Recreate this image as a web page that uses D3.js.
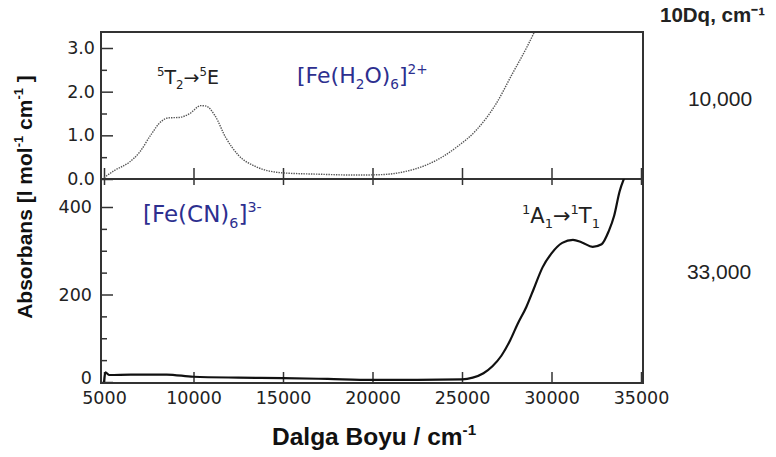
<!DOCTYPE html>
<html lang="en">
<head>
  <meta charset="UTF-8">
  <title>Absorbans spektrumu</title>
  <style>
    body { margin: 0; background: #fff; }
    svg { display: block; }
    .tick text { font-family: "DejaVu Sans", sans-serif; font-size: 17.5px; fill: #222; }
    .tick line { stroke: #333; stroke-width: 1.5; }
  </style>
</head>
<body>
  <div id="chart"></div>
  <script src="https://d3js.org/d3.v7.min.js"></script>
  <script>
    // [Fe(H2O)6]2+ spektrumu (ust panel)
    var aquaWave = [5000, 5600, 6400, 7000, 7600, 8200, 8600, 9200, 9800, 10400, 10700, 11200, 11800, 12500,
      13500, 15000, 17000, 19000, 20500, 21700, 23000, 24000, 24700, 25800, 26900, 27800, 28600, 29200]
    var aquaAbs = [0.03, 0.2, 0.38, 0.62, 1.0, 1.32, 1.4, 1.41, 1.5, 1.68, 1.67, 1.45, 0.95, 0.55,
      0.28, 0.14, 0.11, 0.09, 0.1, 0.16, 0.32, 0.53, 0.73, 1.12, 1.72, 2.4, 3.0, 3.5]

    // [Fe(CN)6]3- spektrumu (alt panel)
    var cyanoWave = [5000, 5080, 5300, 6500, 8500, 10000, 12500, 15000, 17500, 20000, 22500, 25000, 25600, 26200,
      26700, 27200, 27700, 28100, 28600, 29000, 29500, 30000, 30600, 31200, 31700, 32300, 32800, 33200, 33500, 33800, 34100]
    var cyanoAbs = [0, 22, 16, 17, 17, 12, 10, 9, 7, 5, 5, 6, 10, 20,
      36, 60, 96, 132, 172, 212, 262, 294, 318, 325, 319, 309, 315, 345, 380, 435, 470]

    var xTicks = [5000, 10000, 15000, 20000, 25000, 30000, 35000]
    var topTicks = [0, 1, 2, 3]
    var topMinor = [0.5, 1.5, 2.5]
    var botTicks = [0, 200, 400]
    var botMinor = [50, 100, 150, 250, 300, 350]

    var width = 776, height = 457
    var pLeft = 101, pRight = 643, pTop = 32, pMid = 179, pBottom = 383

    var svg = d3.select('#chart').append('svg')
      .attr('width', width)
      .attr('height', height)
    svg.append('rect').attr('width', width).attr('height', height).attr('fill', '#fff')

    var x = d3.scaleLinear().domain([5000, 35000]).range([104, 641])
    var yTop = d3.scaleLinear().domain([0, 3]).range([pMid, 48])
    var yBot = d3.scaleLinear().domain([0, 400]).range([382, 207])

    var defs = svg.append('defs')
    defs.append('clipPath').attr('id', 'clipTop').append('rect')
      .attr('x', pLeft).attr('y', pTop).attr('width', pRight - pLeft).attr('height', pMid - pTop)
    defs.append('clipPath').attr('id', 'clipBot').append('rect')
      .attr('x', pLeft).attr('y', pMid).attr('width', pRight - pLeft).attr('height', pBottom - pMid)

    // eksenler
    function noDomain (g) { g.select('.domain').remove() }

    svg.append('g').attr('transform', 'translate(' + pLeft + ',0)')
      .call(d3.axisLeft(yTop).tickValues(topTicks).tickSize(-12).tickPadding(6).tickFormat(d3.format('.1f')))
      .call(noDomain)
    svg.append('g').attr('transform', 'translate(' + pLeft + ',0)')
      .call(d3.axisLeft(yTop).tickValues(topMinor).tickSize(-6).tickFormat(''))
      .call(noDomain)
    svg.append('g').attr('transform', 'translate(' + pLeft + ',0)')
      .call(d3.axisLeft(yBot).tickValues(botTicks).tickSize(-12).tickPadding(9).tickFormat(d3.format('d')))
      .call(noDomain)
      .selectAll('.tick text').attr('dy', function (d) { return d === 0 ? '0.1em' : '0.32em' })
    svg.append('g').attr('transform', 'translate(' + pLeft + ',0)')
      .call(d3.axisLeft(yBot).tickValues(botMinor).tickSize(-6).tickFormat(''))
      .call(noDomain)

    // orta cizgi uzerindeki x tikleri
    svg.append('g').attr('transform', 'translate(0,' + pMid + ')')
      .call(d3.axisTop(x).tickValues(xTicks).tickSize(11).tickFormat(''))
      .call(noDomain)
    svg.append('g').attr('transform', 'translate(0,' + pMid + ')')
      .call(d3.axisBottom(x).tickValues(xTicks).tickSize(6).tickFormat(''))
      .call(noDomain)
    svg.append('g').attr('transform', 'translate(0,' + pBottom + ')')
      .call(d3.axisBottom(x).tickValues(xTicks).tickSize(-11).tickPadding(9).tickFormat(d3.format('d')))
      .call(noDomain)

    // cerceve
    svg.append('rect')
      .attr('x', pLeft).attr('y', pTop)
      .attr('width', pRight - pLeft).attr('height', pBottom - pTop)
      .attr('fill', 'none').attr('stroke', '#333').attr('stroke-width', 2)
    svg.append('line')
      .attr('x1', pLeft).attr('x2', pRight).attr('y1', pMid).attr('y2', pMid)
      .attr('stroke', '#333').attr('stroke-width', 2.2)

    // egriler
    var lineTop = d3.line()
      .x(function (d) { return x(d[0]) })
      .y(function (d) { return yTop(d[1]) })
      .curve(d3.curveMonotoneX)
    var lineBot = d3.line()
      .x(function (d) { return x(d[0]) })
      .y(function (d) { return yBot(d[1]) })
      .curve(d3.curveMonotoneX)

    svg.append('path')
      .datum(d3.zip(aquaWave, aquaAbs))
      .attr('clip-path', 'url(#clipTop)')
      .attr('d', lineTop)
      .attr('fill', 'none')
      .attr('stroke', '#555')
      .attr('stroke-width', 1.4)
      .attr('stroke-dasharray', '1.4 1.1')

    svg.append('path')
      .datum(d3.zip(cyanoWave, cyanoAbs))
      .attr('clip-path', 'url(#clipBot)')
      .attr('d', lineBot)
      .attr('fill', 'none')
      .attr('stroke', '#111')
      .attr('stroke-width', 2.2)

    // metinler: [metin, 'sub' | 'sup']
    function label (xp, yp, size, color, family, weight, parts) {
      var t = svg.append('text')
        .attr('x', xp).attr('y', yp)
        .attr('font-family', family).attr('font-size', size)
        .attr('font-weight', weight).attr('fill', color)
      var prev = 0
      parts.forEach(function (p) {
        var shift = p[1] === 'sub' ? Math.round(size * 0.25) : (p[1] === 'sup' ? -Math.round(size * 0.42) : 0)
        var ts = t.append('tspan').text(p[0]).attr('dy', shift - prev)
        if (p[1]) ts.attr('font-size', '0.62em')
        prev = shift
      })
      return t
    }

    var blue = '#2d2f8f'
    var sans = '"DejaVu Sans", sans-serif'
    label(297, 83, 22, blue, sans, 'normal',
      [['[Fe(H'], ['2', 'sub'], ['O)'], ['6', 'sub'], [']'], ['2+', 'sup']])
    label(143, 222, 23, blue, sans, 'normal',
      [['[Fe(CN)'], ['6', 'sub'], [']'], ['3-', 'sup']])
    label(157, 84, 19, '#222', sans, 'normal',
      [['5', 'sup'], ['T'], ['2', 'sub'], ['\u2192'], ['5', 'sup'], ['E']])
    label(522, 223, 21, '#222', sans, 'normal',
      [['1', 'sup'], ['A'], ['1', 'sub'], ['\u2192'], ['1', 'sup'], ['T'], ['1', 'sub']])

    var arial = '"Liberation Sans", Arial, sans-serif'
    svg.append('text').attr('x', 660).attr('y', 22)
      .attr('font-family', arial).attr('font-size', 20.5).attr('font-weight', 'bold').attr('fill', '#222')
      .text('10Dq, cm\u207b\u00b9')
    svg.append('text').attr('x', 720).attr('y', 106).attr('text-anchor', 'middle')
      .attr('font-family', arial).attr('font-size', 21).attr('fill', '#222').text('10,000')
    svg.append('text').attr('x', 719).attr('y', 279).attr('text-anchor', 'middle')
      .attr('font-family', arial).attr('font-size', 21).attr('fill', '#222').text('33,000')

    label(272, 445, 24.5, '#111', arial, 'bold', [['Dalga Boyu / cm'], ['-1', 'sup']])

    var yl = label(0, 0, 21, '#111', arial, 'bold',
      [['Absorbans [l mol'], ['-1', 'sup'], [' cm'], ['-1', 'sup'], [' ]']])
    yl.attr('text-anchor', 'middle').attr('transform', 'translate(32,197) rotate(-90)')
  </script>
</body>
</html>
